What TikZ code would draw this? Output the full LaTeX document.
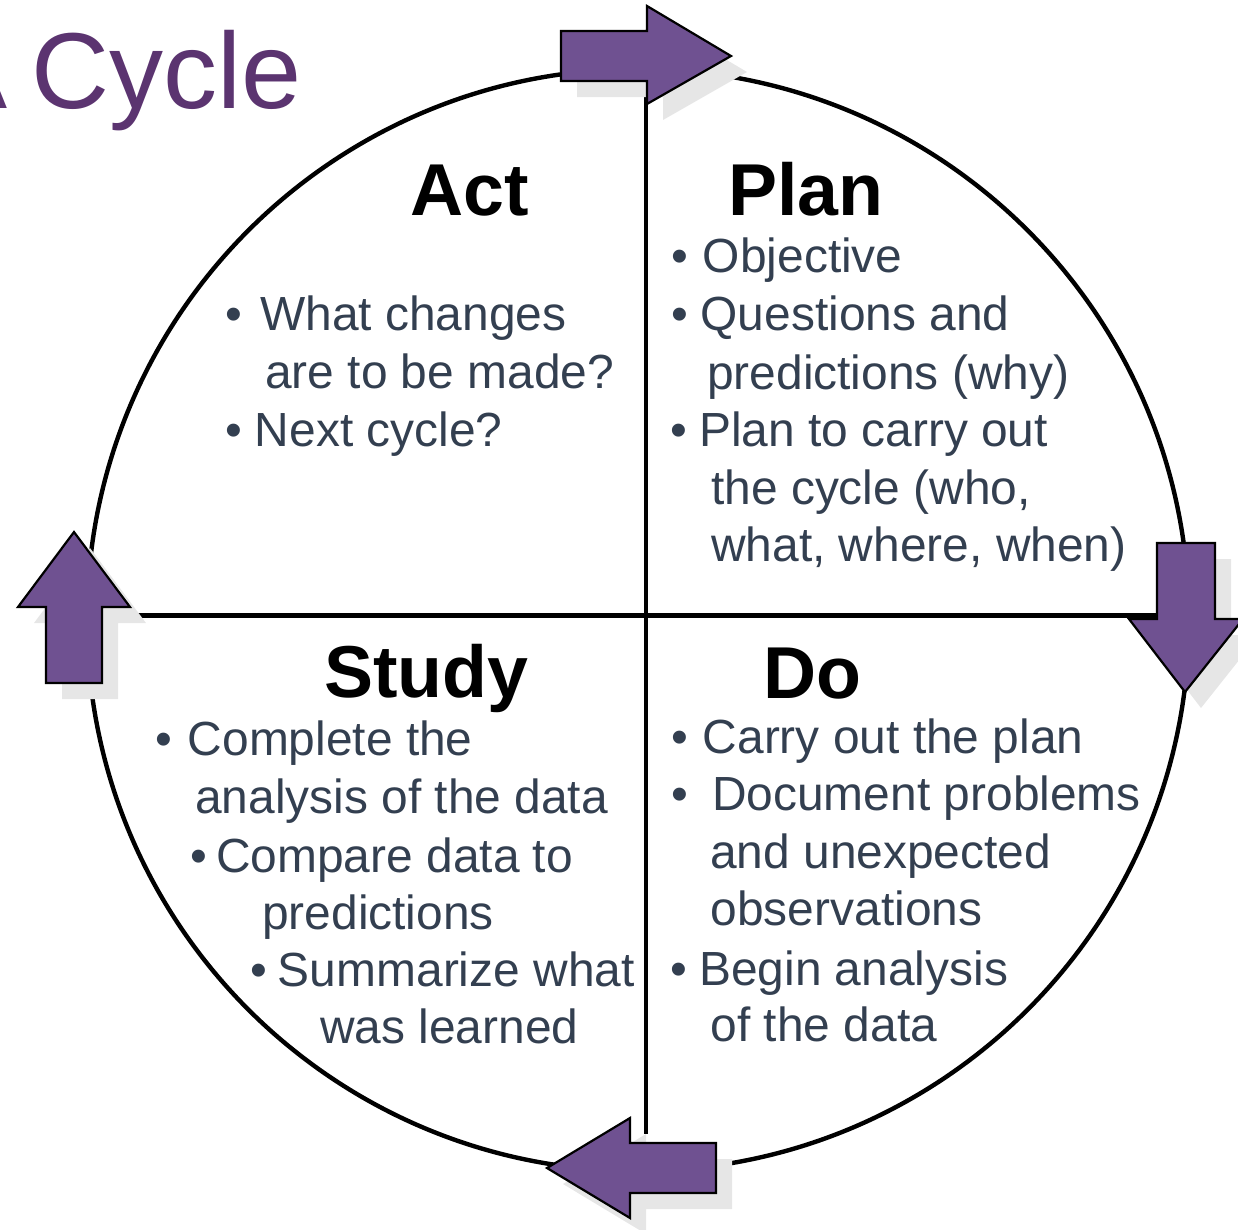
\documentclass[tikz,border=0pt]{standalone}
\usepackage{fontspec}
\setmainfont{Liberation Sans}

\definecolor{titlepurple}{RGB}{91,52,112}
\definecolor{arrowfill}{RGB}{111,81,145}
\definecolor{shadowgray}{RGB}{230,230,230}
\definecolor{bodytext}{RGB}{51,63,80}

% bullet hung to the left of the line start, #1 = gap in pt
\newcommand\bul[1]{\llap{•\hspace{#1pt}}}

% the four cycle arrows as closed paths
\newcommand\arrowtop{(561,31) -- (647,31) -- (647,6) -- (731,56) -- (647,104) -- (647,81) -- (561,81) -- cycle}
\newcommand\arrowright{(1157,543) -- (1215,543) -- (1215,619) -- (1243,619) -- (1185,692) -- (1129,619) -- (1157,619) -- cycle}
\newcommand\arrowleft{(74,532) -- (130,607) -- (102,607) -- (102,683) -- (46,683) -- (46,607) -- (18,607) -- cycle}
\newcommand\arrowbottom{(547,1168) -- (630,1118) -- (630,1143) -- (716,1143) -- (716,1193) -- (630,1193) -- (630,1218) -- cycle}

\tikzset{
  ring/.style={draw=black, line width=4.4pt},
  divider/.style={draw=black, line width=4.6pt},
  arrowbody/.style={fill=arrowfill, draw=black, line width=2.2pt, line join=miter},
  arrowshadow/.style={fill=shadowgray, shift={(16,16)}},
  heading/.style={anchor=base west, inner sep=0pt, text=black,
    font=\fontsize{73.5}{80}\selectfont\bfseries},
  body/.style={anchor=base west, inner sep=0pt, text=bodytext,
    font=\fontsize{47.9}{56}\selectfont},
  titletext/.style={anchor=base west, inner sep=0pt, text=titlepurple,
    font=\fontsize{108}{120}\selectfont}
}

\begin{document}
\begin{tikzpicture}[x=1pt,y=-1pt]
\useasboundingbox (0,0) rectangle (1238,1229);

% title, partly running off the left edge
\node[titletext] (title) at (31.6,108) {\llap{A\kern-6pt\ }Cycle};

% circle and the two dividing lines
\draw[ring] (638,620) circle[radius=551];
\coordinate (vtop) at (646,95);
\coordinate (vbot) at (646,1134);
\coordinate (hleft) at (130,615.5);
\coordinate (hright) at (1158,615.5);
\draw[divider] (vtop) -- (vbot);
\draw[divider] (hleft) -- (hright);

% arrow shadows
\fill[arrowshadow] \arrowtop;
\fill[arrowshadow] \arrowright;
\fill[arrowshadow] \arrowleft;
\fill[arrowshadow] \arrowbottom;

% arrows
\filldraw[arrowbody] \arrowtop;
\filldraw[arrowbody] \arrowright;
\filldraw[arrowbody] \arrowleft;
\filldraw[arrowbody] \arrowbottom;

% Act
\node[heading] (act) at (410,215) {Act};
\node[body] (act1) at (260,330) {\bul{17.7}What changes};
\node[body] (act2) at (265,388) {are to be made?};
\node[body] (act3) at (254.7,446) {\bul{12.4}Next cycle?};

% Plan
\node[heading] (plan) at (728,215) {Plan};
\node[body] (plan1) at (702.7,272.7) {\bul{15.1}Objective};
\node[body] (plan2) at (700.4,330) {\bul{12.8}Questions and};
\node[body] (plan3) at (707,389) {predictions (why)};
\node[body] (plan4) at (699,446.7) {\bul{11.7}Plan to carry out};
\node[body] (plan5) at (711,504) {the cycle (who,};
\node[body] (plan6) at (711,561.7) {what, where, when)};

% Study
\node[heading] (study) at (324,697) {Study};
\node[body] (study1) at (187.6,755) {\bul{16}Complete the};
\node[body] (study2) at (195,813) {analysis of the data};
\node[body] (study3) at (216,872.7) {\bul{9.4}Compare data to};
\node[body] (study4) at (262,929.3) {predictions};
\node[body] (study5) at (277.8,986.7) {\bul{10.5}Summarize what};
\node[body] (study6) at (320,1043) {was learned};

% Do
\node[heading] (do) at (763,698) {Do};
\node[body] (do1) at (702.6,753.3) {\bul{15}Carry out the plan};
\node[body] (do2) at (712,810) {\bul{24.4}Document problems};
\node[body] (do3) at (710,868.3) {and unexpected};
\node[body] (do4) at (710.5,925) {observations};
\node[body] (do5) at (699,985) {\bul{11.7}Begin analysis};
\node[body] (do6) at (710.5,1041.7) {of the data};
\end{tikzpicture}
\end{document}
